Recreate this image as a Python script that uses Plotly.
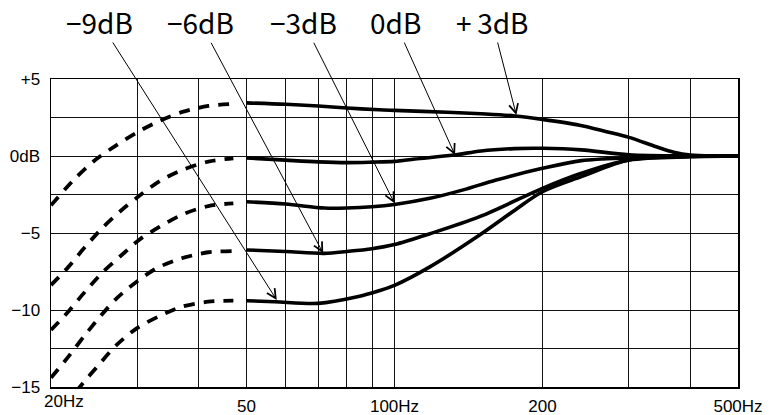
import math
import plotly.graph_objects as go

# ---------------- data ----------------
# dashed (below 50 Hz) portions
f_dash_p3 = [20, 22.4, 24.6, 27.2, 30.1, 33.3, 37.2, 41.8, 47.0]
db_dash_p3 = [-3.2, -1.45, -0.26, 0.71, 1.58, 2.29, 2.88, 3.25, 3.38]

f_dash_0 = [20, 21.7, 23.46, 25.55, 27.85, 30.2, 33.3, 37.2, 41.8, 47.0]
db_dash_0 = [-8.38, -7.2, -5.91, -4.61, -3.51, -2.6, -1.62, -0.88, -0.36, -0.15]

f_dash_m3 = [20, 21.7, 23.46, 25.55, 27.85, 30.2, 33.3, 37.2, 41.8, 47.0]
db_dash_m3 = [-11.3, -10.1, -8.81, -7.51, -6.43, -5.45, -4.59, -3.77, -3.25, -3.07]

f_dash_m6 = [20, 21.7, 23.46, 25.17, 27.2, 29.88, 32.8, 36.9, 41.8, 47.0]
db_dash_m6 = [-14.4, -13.03, -11.62, -10.43, -9.24, -8.16, -7.29, -6.64, -6.25, -6.17]

f_dash_m9 = [20, 23.07, 25.17, 27.2, 29.88, 33.06, 36.9, 41.8, 47.0]
db_dash_m9 = [-17.3, -14.87, -13.46, -12.27, -11.19, -10.43, -9.79, -9.46, -9.39]

# solid (50 Hz and up) portions
f_solid_p3 = [50, 60, 70, 80, 93, 100, 128, 150, 176, 200, 238, 270, 300, 341, 370, 400, 450, 500]
db_solid_p3 = [3.45, 3.36, 3.25, 3.12, 3.0, 2.96, 2.84, 2.74, 2.6, 2.38, 2.0, 1.58, 1.21, 0.6, 0.25, 0.06, 0.0, 0.0]

f_solid_0 = [50, 60, 70, 80, 90, 100, 110, 132, 150, 175, 200, 240, 300, 400, 500]
db_solid_0 = [-0.13, -0.27, -0.38, -0.43, -0.4, -0.35, -0.2, 0.06, 0.33, 0.48, 0.5, 0.4, 0.08, 0.0, 0.0]

f_solid_m3 = [50, 60, 72, 80, 90, 100, 118, 138, 161, 200, 240, 300, 400, 500]
db_solid_m3 = [-2.97, -3.12, -3.38, -3.38, -3.3, -3.15, -2.75, -2.2, -1.56, -0.8, -0.3, -0.12, -0.02, 0.0]

f_solid_m6 = [50, 60, 72, 80, 90, 100, 118, 149, 200, 240, 300, 400, 500]
db_solid_m6 = [-6.1, -6.2, -6.32, -6.2, -6.02, -5.75, -5.05, -3.94, -2.1, -1.12, -0.26, -0.05, 0.0]

f_solid_m9 = [50, 57, 70, 84, 93, 100, 118, 149, 176, 200, 240, 300, 400, 500]
db_solid_m9 = [-9.4, -9.46, -9.57, -9.14, -8.75, -8.4, -7.2, -5.13, -3.5, -2.32, -1.34, -0.26, -0.03, 0.0]

# curve labels and the points their arrows touch
label_texts = ["\u22129dB", "\u22126dB", "\u22123dB", "0dB", "+\u20093dB"]
arrow_f = [57.6, 71.6, 100, 132.8, 177]
arrow_db = [-9.35, -6.32, -3.07, 0.06, 2.66]

# axis ticks
x_tickvals = [20, 30, 40, 50, 60, 70, 80, 90, 100, 200, 300, 400, 500]
x_ticktext = ["", "", "", "50", "", "", "", "", "100Hz", "200", "", "", "500Hz"]
y_tickvals = [5, 2.5, 0, -2.5, -5, -7.5, -10, -12.5, -15]
y_ticktext = ["+5", "", "0dB", "", "\u22125", "", "\u221210", "", "\u221215"]

# ---------------- figure ----------------
fig = go.Figure()

dash_sets = [(f_dash_p3, db_dash_p3), (f_dash_0, db_dash_0), (f_dash_m3, db_dash_m3),
             (f_dash_m6, db_dash_m6), (f_dash_m9, db_dash_m9)]
solid_sets = [(f_solid_p3, db_solid_p3), (f_solid_0, db_solid_0), (f_solid_m3, db_solid_m3),
              (f_solid_m6, db_solid_m6), (f_solid_m9, db_solid_m9)]

for fx, dy in dash_sets:
    fig.add_trace(go.Scatter(x=fx, y=dy, mode="lines",
                             line=dict(color="black", width=3.8, dash="11px,9px", shape="spline", smoothing=0.8),
                             hoverinfo="skip", showlegend=False))
for fx, dy in solid_sets:
    fig.add_trace(go.Scatter(x=fx, y=dy, mode="lines",
                             line=dict(color="black", width=3.6, shape="spline", smoothing=0.9),
                             hoverinfo="skip", showlegend=False))

# label text centres (pixels) relative to arrow tips
label_offsets = [(-177, -278), (-123, -231), (-91, -181), (-60, -133), (-24, -93)]
for txt, fa, da, (axo, ayo) in zip(label_texts, arrow_f, arrow_db, label_offsets):
    fig.add_annotation(x=math.log10(fa), y=da, xref="x", yref="y", text=txt,
                       showarrow=True, ax=axo, ay=ayo, arrowhead=5, arrowsize=1.8,
                       arrowwidth=1, arrowcolor="black", standoff=0, borderpad=0,
                       font=dict(family="Noto Sans CJK JP", size=28, color="black"))

fig.add_annotation(x=math.log10(20), y=-15, xref="x", yref="y", text="20Hz",
                   showarrow=False, xshift=13, yshift=-14,
                   font=dict(family="Liberation Sans", size=17, color="black"))

fig.update_xaxes(type="log", range=[math.log10(20), math.log10(500)],
                 tickmode="array", tickvals=x_tickvals, ticktext=x_ticktext,
                 showgrid=True, gridcolor="#111", gridwidth=1,
                 showline=True, linecolor="black", linewidth=1.5, mirror=True,
                 zeroline=False, ticks="", ticklabelstandoff=3,
                 tickfont=dict(family="Liberation Sans", size=17, color="black"))
fig.update_yaxes(range=[-15, 5], tickmode="array", tickvals=y_tickvals, ticktext=y_ticktext,
                 showgrid=True, gridcolor="#111", gridwidth=1,
                 showline=True, linecolor="black", linewidth=1.5, mirror=True,
                 zeroline=False, ticks="", ticklabelstandoff=6,
                 tickfont=dict(family="Liberation Sans", size=17, color="black"))

fig.update_layout(width=776, height=415, margin=dict(l=51, r=38, t=79, b=28, autoexpand=False),
                  paper_bgcolor="white", plot_bgcolor="white", showlegend=False)

fig.write_html("out.html", config={"displayModeBar": False, "staticPlot": True},
               post_script="document.body.style.margin='0';document.body.style.overflow='hidden';")
